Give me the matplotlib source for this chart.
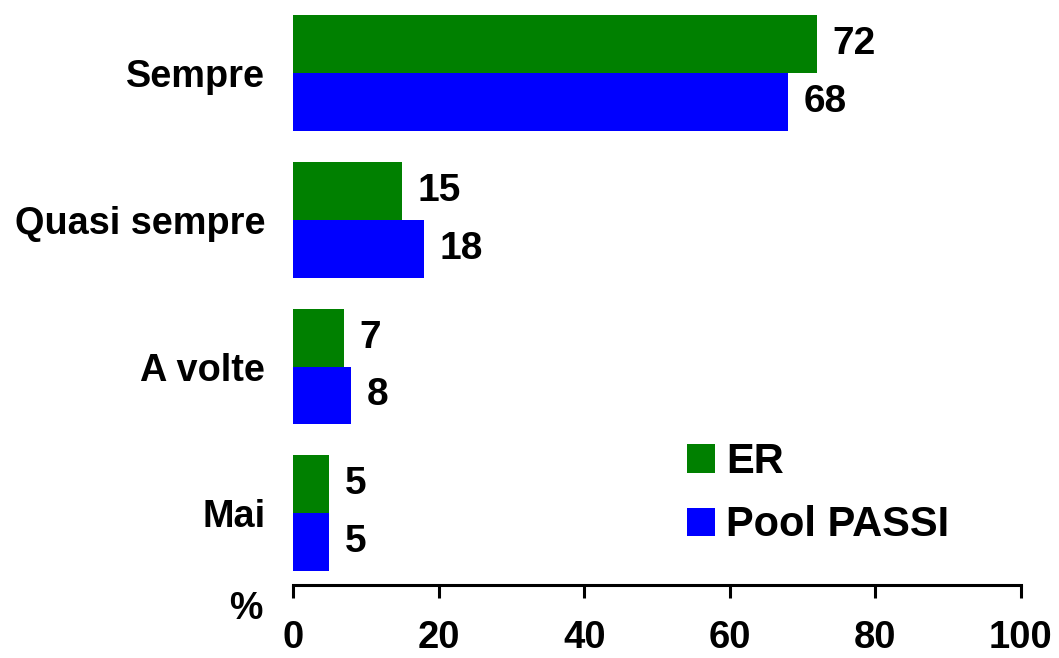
import matplotlib.pyplot as plt
import numpy as np

plt.rcParams['font.family'] = ['Liberation Sans', 'DejaVu Sans']
plt.rcParams['font.weight'] = 'bold'

# dati
categorie = ['Sempre', 'Quasi sempre', 'A volte', 'Mai']
er = [72, 15, 7, 5]
pool = [68, 18, 8, 5]
x_ticks = [0, 20, 40, 60, 80, 100]

fig = plt.figure(figsize=(10.59, 6.58), dpi=100)
ax = fig.add_axes([293 / 1059, 73 / 658, 728 / 1059, 585 / 658])

n = len(categorie)
y = np.arange(n)[::-1]  # Sempre in alto
h = 0.395

b1 = ax.barh(y + h / 2, er, height=h, color='#008000', label='ER')
b2 = ax.barh(y - h / 2, pool, height=h, color='#0000FF', label='Pool PASSI')

for bars, vals in ((b1, er), (b2, pool)):
    for b, v in zip(bars, vals):
        ax.annotate(str(v), (b.get_width(), b.get_y() + b.get_height() / 2),
                    xytext=(11, 0), textcoords='offset points',
                    va='center', ha='left', fontsize=28, fontweight='bold')

ax.set_xlim(0, 100)
ax.set_ylim(-0.49, 3.5)
ax.set_xticks(x_ticks)
ax.set_xticklabels([str(t) for t in x_ticks], fontsize=27.5, fontweight='bold')
ax.set_yticks(y)
ax.set_yticklabels(categorie, fontsize=27.3, fontweight='bold')
ax.tick_params(axis='y', length=0, pad=20)
ax.tick_params(axis='x', length=9.5, width=2.2, pad=16, direction='out')

for s in ['top', 'right', 'left']:
    ax.spines[s].set_visible(False)
ax.spines['bottom'].set_linewidth(2.2)

fig.text(246 / 1059, 1 - 609 / 658, '%', fontsize=27, fontweight='bold',
         ha='center', va='center')

ax.legend(loc='upper left', bbox_to_anchor=(0.541, 0.2445), frameon=False,
          prop={'size': 30, 'weight': 'bold'}, handlelength=0.67,
          handleheight=0.67, handletextpad=0.27, labelspacing=0.56,
          borderaxespad=0, borderpad=0)

plt.savefig('out.png', dpi=100)
